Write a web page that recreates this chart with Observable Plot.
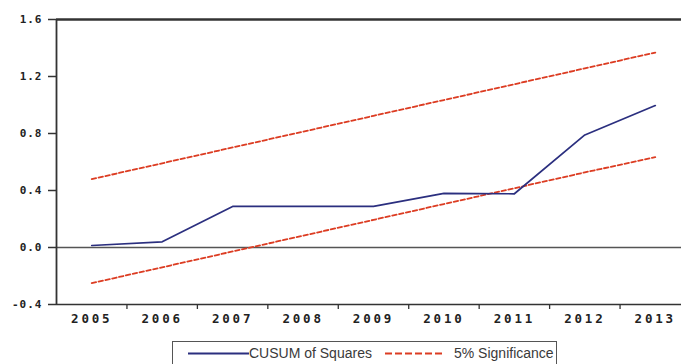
<!DOCTYPE html>
<html><head><meta charset="utf-8">
<script src="https://cdn.jsdelivr.net/npm/d3@7"></script>
<script src="https://cdn.jsdelivr.net/npm/@observablehq/plot@0.6"></script>
<style>
body{margin:0;background:#fff;}
#wrap{position:relative;width:681px;height:364px;overflow:hidden;background:#fff;}
#legend{position:absolute;left:172px;top:341px;width:385px;height:28px;border:1px solid #555;box-sizing:border-box;font-family:"Liberation Sans",Arial,sans-serif;font-size:14px;color:#3a3a3a;}
#legend span{position:absolute;top:3px;white-space:nowrap;}
#legend svg{position:absolute;left:0;top:0;}
</style></head>
<body><div id="wrap"></div>
<script>
const years = [2005, 2006, 2007, 2008, 2009, 2010, 2011, 2012, 2013];
const cusum = [0.014, 0.04, 0.288, 0.288, 0.288, 0.38, 0.377, 0.79, 0.996];
const upper = [0.480, 0.591, 0.702, 0.813, 0.924, 1.035, 1.146, 1.257, 1.368];
const lower = [-0.250, -0.139, -0.028, 0.083, 0.194, 0.305, 0.416, 0.527, 0.634];
const yTicks = [-0.4, 0.0, 0.4, 0.8, 1.2, 1.6];
const xBounds = [2005.5, 2006.5, 2007.5, 2008.5, 2009.5, 2010.5, 2011.5, 2012.5, 2013.5];
const seriesNames = ["CUSUM of Squares", "5% Significance"];

const rows = years.map((y, i) => ({year: y, cusum: cusum[i], upper: upper[i], lower: lower[i]}));
const blue = "#2b2f7f", red = "#dc3c22", axisCol = "#333";

const chart = Plot.plot({
  width: 681, height: 338,
  marginLeft: 56, marginTop: 19, marginBottom: 34, marginRight: 0,
  x: {type: "linear", domain: [2004.5, 2013.5], range: [56, 690]},
  y: {domain: [-0.4, 1.6], range: [304, 19]},
  style: {fontFamily: "'DejaVu Sans Mono', monospace", overflow: "visible", background: "#fff"},
  marks: [
    Plot.ruleY([0], {stroke: "#555", strokeWidth: 1.6}),
    Plot.line(rows, {x: "year", y: "upper", stroke: red, strokeWidth: 1.8, strokeDasharray: "4.5,2.5"}),
    Plot.line(rows, {x: "year", y: "lower", stroke: red, strokeWidth: 1.8, strokeDasharray: "4.5,2.5"}),
    Plot.line(rows, {x: "year", y: "cusum", stroke: blue, strokeWidth: 1.7}),
    Plot.ruleY([1.6], {stroke: axisCol, strokeWidth: 2.4}),
    Plot.ruleY([-0.4], {stroke: axisCol, strokeWidth: 1.6}),
    Plot.ruleX([2004.5], {stroke: axisCol, strokeWidth: 1.8}),
    Plot.axisY(yTicks, {tickSize: 8, tickPadding: 6, tickFormat: d => d.toFixed(1), fontSize: 11, fontWeight: "bold", color: "#222", stroke: axisCol, strokeWidth: 1.5, label: null}),
    Plot.axisX(years, {tickSize: 0, tickPadding: 10, tickFormat: d => String(d), fontSize: 12.5, fontWeight: "bold", color: "#222", label: null}),
    Plot.axisX(xBounds, {tickSize: 5, tickFormat: () => "", stroke: axisCol, strokeWidth: 1.3, label: null})
  ]
});
d3.select(chart).selectAll('g[aria-label="y-axis tick label"] text').style("letter-spacing", "1px");
d3.select(chart).selectAll('g[aria-label="x-axis tick label"] text').style("letter-spacing", "2.8px");
document.getElementById("wrap").appendChild(chart);

const legend = d3.select("#wrap").append("div").attr("id", "legend");
const lsvg = legend.append("svg").attr("width", 385).attr("height", 28);
lsvg.append("line").attr("x1", 15).attr("x2", 76).attr("y1", 11.5).attr("y2", 11.5).attr("stroke", blue).attr("stroke-width", 2);
lsvg.append("line").attr("x1", 212).attr("x2", 271).attr("y1", 11.5).attr("y2", 11.5).attr("stroke", red).attr("stroke-width", 2.2).attr("stroke-dasharray", "7,3");
legend.append("span").style("left", "76px").text(seriesNames[0]);
legend.append("span").style("left", "281px").text(seriesNames[1]);
</script>
</body></html>
